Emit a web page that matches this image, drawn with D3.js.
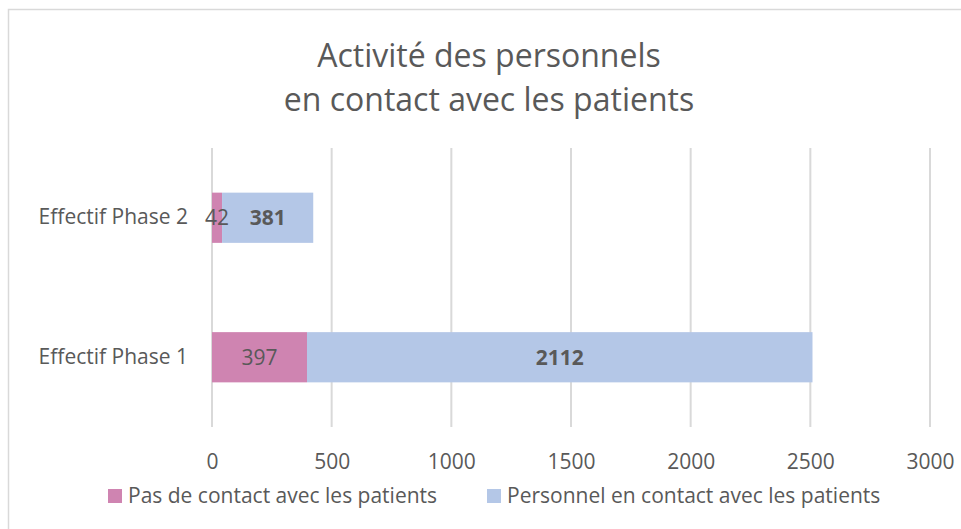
<!DOCTYPE html>
<html>
<head>
<meta charset="utf-8">
<script src="https://cdn.jsdelivr.net/npm/d3@7"></script>
<style>
    body { margin: 0; background: #fff; }
    svg text { font-family: "Open Sans", sans-serif; fill: #595959; }
</style>
</head>
<body>
<div id="chart"></div>
<script>
// données
const categories = ["Effectif Phase 2", "Effectif Phase 1"];
const seriesNames = ["Pas de contact avec les patients", "Personnel en contact avec les patients"];
const pasContact = [42, 397];
const enContact = [381, 2112];
const xTicks = [0, 500, 1000, 1500, 2000, 2500, 3000];
const titleLines = ["Activité des personnels", "en contact avec les patients"];

const colors = ["#cf84b1", "#b4c7e7"];

const W = 961, H = 529;
const svg = d3.select("#chart").append("svg")
    .attr("width", W)
    .attr("height", H);

// cadre du graphique
svg.append("rect")
    .attr("x", 8.5).attr("y", 9.5)
    .attr("width", 980).attr("height", 540)
    .attr("fill", "#fff")
    .attr("stroke", "#d9d9d9")
    .attr("stroke-width", 1.5);

// titre
svg.append("g").selectAll("text")
    .data(titleLines)
    .join("text")
    .attr("x", 489)
    .attr("y", (d, i) => 67 + i * 44)
    .attr("text-anchor", "middle")
    .attr("font-size", 32)
    .text(d => d);

const x = d3.scaleLinear([0, 3000], [212, 930]);
const y = d3.scaleBand(categories, [148, 427]).paddingInner(0.64).paddingOuter(0.32);

// grille
svg.append("g").selectAll("line")
    .data(xTicks)
    .join("line")
    .attr("x1", d => x(d)).attr("x2", d => x(d))
    .attr("y1", 148).attr("y2", 427)
    .attr("stroke", "#d9d9d9")
    .attr("stroke-width", 2);

// axe x
const xAxis = d3.axisBottom(x).tickValues(xTicks).tickFormat(d3.format("d")).tickSize(0).tickPadding(0);
svg.append("g")
    .attr("transform", "translate(0, 454)")
    .call(xAxis)
    .call(g => g.select(".domain").remove())
    .call(g => g.selectAll("text")
        .attr("font-size", 21)
        .attr("fill", "#595959")
        .attr("font-family", "Open Sans"));

// axe y
const yAxis = d3.axisLeft(y).tickSize(0).tickPadding(0);
svg.append("g")
    .attr("transform", "translate(188, 0)")
    .call(yAxis)
    .call(g => g.select(".domain").remove())
    .call(g => g.selectAll("text")
        .attr("font-size", 21)
        .attr("fill", "#595959")
        .attr("font-family", "Open Sans"));

// barres empilées
const rows = categories.map((c, i) => ({ cat: c, a: pasContact[i], b: enContact[i] }));
const stack = d3.stack().keys(["a", "b"])(rows);

const layers = svg.append("g").selectAll("g")
    .data(stack)
    .join("g")
    .attr("fill", (d, i) => colors[i]);

layers.selectAll("rect")
    .data(d => d)
    .join("rect")
    .attr("x", d => x(d[0]))
    .attr("y", d => y(d.data.cat))
    .attr("width", d => x(d[1]) - x(d[0]))
    .attr("height", y.bandwidth());

// étiquettes de données
stack.forEach((layer, li) => {
    svg.append("g").selectAll("text")
        .data(layer)
        .join("text")
        .attr("x", d => (x(d[0]) + x(d[1])) / 2)
        .attr("y", d => y(d.data.cat) + y.bandwidth() / 2)
        .attr("dy", "0.35em")
        .attr("text-anchor", "middle")
        .attr("font-size", 21)
        .attr("font-weight", li === 1 ? "bold" : "normal")
        .attr("fill", "#404040")
        .text(d => d[1] - d[0]);
});

// légende
const legendX = [108, 487];
const legend = svg.append("g").selectAll("g")
    .data(seriesNames)
    .join("g")
    .attr("transform", (d, i) => `translate(${legendX[i]}, 489)`);

legend.append("rect")
    .attr("width", 14).attr("height", 14)
    .attr("fill", (d, i) => colors[i]);

legend.append("text")
    .attr("x", 20)
    .attr("y", 7)
    .attr("dy", "0.35em")
    .attr("font-size", 21)
    .text(d => d);
</script>
</body>
</html>
